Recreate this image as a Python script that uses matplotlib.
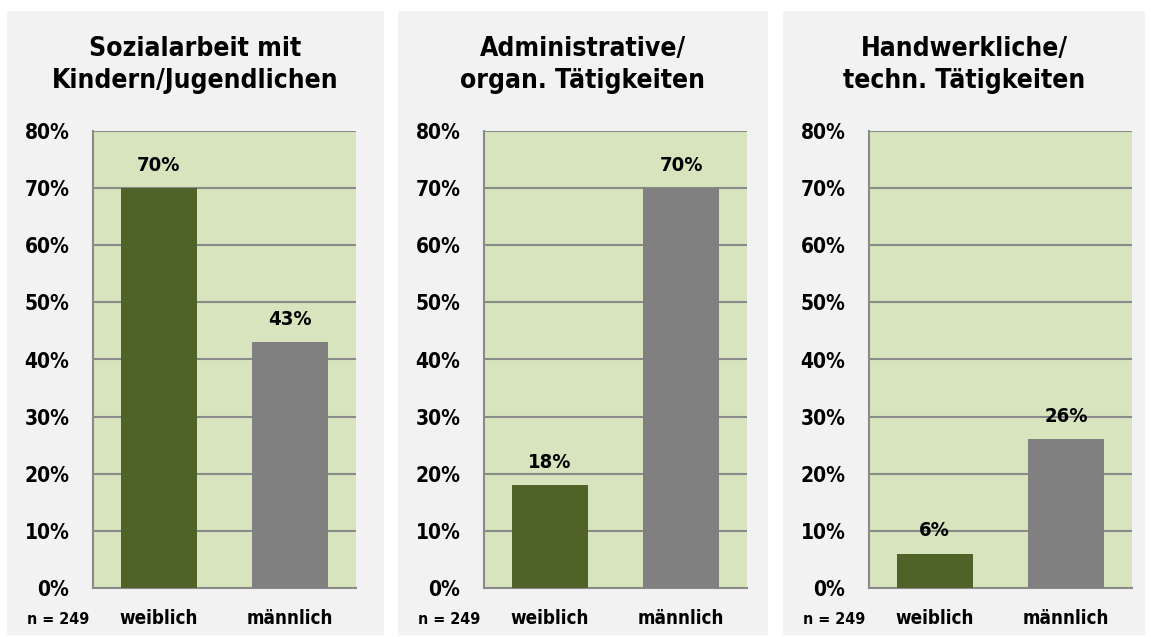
import matplotlib
matplotlib.use('Agg')
import matplotlib.pyplot as plt
from matplotlib import font_manager
from matplotlib.patches import Rectangle
from matplotlib.ticker import FuncFormatter

# pick a narrow bold face if one is installed
narrow = [f for f in font_manager.fontManager.ttflist
          if ('Narrow' in f.name or 'Condensed' in f.name or f.stretch in ('condensed', 'semi-condensed'))
          and f.weight in (600, 700, 'bold')]
if narrow:
    plt.rcParams['font.family'] = [narrow[0].name, 'DejaVu Sans']
    stretch = narrow[0].stretch
else:
    plt.rcParams['font.family'] = ['DejaVu Sans']
    stretch = 'normal'
plt.rcParams['font.stretch'] = stretch
plt.rcParams['font.weight'] = 'bold'

titles = ['Sozialarbeit mit\nKindern/Jugendlichen',
          'Administrative/\norgan. Tätigkeiten',
          'Handwerkliche/\ntechn. Tätigkeiten']
categories = ['weiblich', 'männlich']
weiblich = [70, 18, 6]
maennlich = [43, 70, 26]
yticks = [0, 10, 20, 30, 40, 50, 60, 70, 80]
n_label = 'n = 249'

bar_colors = ['#4f6228', '#808080']
plot_bg = '#d7e4bd'
panel_bg = '#f2f2f2'
grid_color = '#8a8a8a'

W, H = 1151, 637
fig = plt.figure(figsize=(W / 100, H / 100), dpi=100)

panel_x = [(7, 384), (398, 768), (783, 1145)]
axes_left = [93, 484, 869]
axes_w, axes_top, axes_bottom = 263, 131, 588

for i, title in enumerate(titles):
    x0, x1 = panel_x[i]
    fig.patches.append(Rectangle((x0 / W, 1 - 635 / H), (x1 - x0) / W, (635 - 11) / H,
                                 transform=fig.transFigure, facecolor=panel_bg,
                                 edgecolor='none', zorder=-5))
    fig.text((x0 + x1) / 2 / W, 1 - 65 / H, title, ha='center', va='center',
             fontsize=19, fontweight='bold', linespacing=1.3)
    fig.text(27 / W + (x0 - 7) / W, 1 - 619 / H, n_label, ha='left', va='center',
             fontsize=11.5, fontweight='bold')

    ax = fig.add_axes([axes_left[i] / W, 1 - axes_bottom / H, axes_w / W,
                       (axes_bottom - axes_top) / H])
    ax.set_facecolor(plot_bg)
    vals = [weiblich[i], maennlich[i]]
    ax.bar(range(len(categories)), vals, width=0.58, color=bar_colors, zorder=3)
    for x, v in enumerate(vals):
        ax.annotate(f'{v}%', (x, v), xytext=(0, 16.5), textcoords='offset points',
                    ha='center', va='center', fontsize=14.5, fontweight='bold', zorder=4)
    ax.set_xlim(-0.5, 1.5)
    ax.set_ylim(0, 80)
    ax.set_yticks(yticks)
    ax.yaxis.set_major_formatter(FuncFormatter(lambda v, p: f'{v:.0f}%'))
    ax.set_xticks(range(len(categories)))
    ax.set_xticklabels(categories)
    ax.tick_params(axis='y', length=0, pad=17, labelsize=15)
    ax.tick_params(axis='x', length=0, pad=15, labelsize=13.5)
    for lab in ax.get_xticklabels() + ax.get_yticklabels():
        lab.set_fontweight('bold')
    ax.grid(axis='y', color=grid_color, linewidth=1.5, zorder=1)
    ax.set_axisbelow(True)
    for s in ['top', 'right']:
        ax.spines[s].set_visible(False)
    for s in ['left', 'bottom']:
        ax.spines[s].set_color(grid_color)
        ax.spines[s].set_linewidth(1.5)

fig.savefig('out.png', dpi=100, facecolor='white')
